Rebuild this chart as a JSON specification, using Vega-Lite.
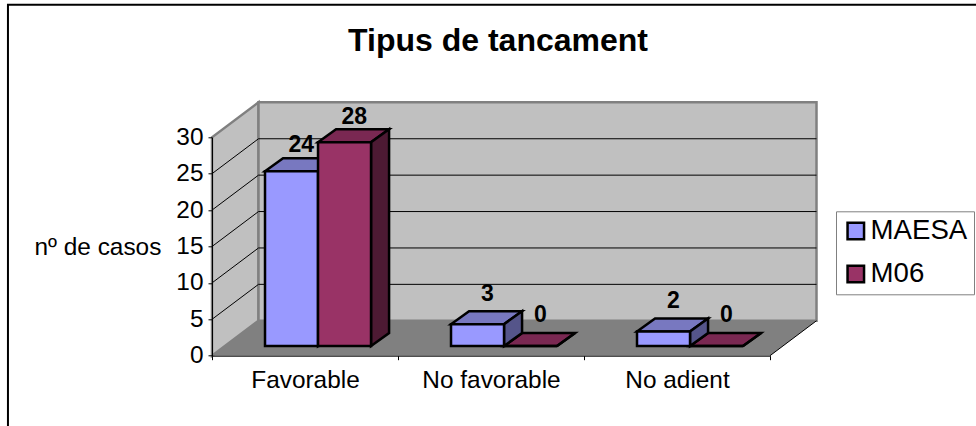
{
"$schema":"https://vega.github.io/schema/vega-lite/v6.json",
"width":558,"height":218.4,
"autosize":{"type":"none"},
"padding":{"left":212,"top":137.3,"right":206,"bottom":70.3},
"background":"white",
"title":{"text":"Tipus de tancament","font":"Liberation Sans","fontSize":32,"fontWeight":"bold","color":"black","anchor":"middle","dx":7,"offset":-54},
"config":{"view":{"stroke":null},"font":"Liberation Sans","axis":{"labelOverlap":false}},
"data":{"values":[
{"category":"Favorable","series":"MAESA","value":24},
{"category":"Favorable","series":"M06","value":28},
{"category":"No favorable","series":"MAESA","value":3},
{"category":"No favorable","series":"M06","value":0},
{"category":"No adient","series":"MAESA","value":2},
{"category":"No adient","series":"M06","value":0}
]},
"transform":[
{"calculate":"indexof(['Favorable','No favorable','No adient'],datum.category)","as":"i"},
{"calculate":"datum.series=='MAESA'?0:1","as":"s"},
{"calculate":"datum.i+0.285+datum.s*0.285","as":"x0"},
{"calculate":"datum.x0+0.285","as":"x1"},
{"calculate":"1.33","as":"y0"},
{"calculate":"1.33+datum.value","as":"y1"},
{"calculate":"datum.x0+0.195","as":"lx"},
{"calculate":"5.6+0.97*datum.value","as":"ly"}
],
"layer":[
{"data":{"values":[{"a":1}]},
 "mark":{"type":"rect","fill":null,"fillOpacity":0,"stroke":"black","strokeWidth":2,"clip":false},
 "encoding":{
  "x":{"datum":-1.097,"type":"quantitative","scale":{"domain":[0,3],"nice":false,"zero":false},
   "axis":{"title":null,"values":[0,0.5,1,1.5,2,2.5,3],"grid":false,"zindex":1,"domainColor":"black","domainWidth":1,"tickColor":"black","tickSize":4,"tickOpacity":{"condition":{"test":"datum.value%1==0","value":1},"value":0},
    "labelExpr":"datum.value==0.5?'Favorable':datum.value==1.5?'No favorable':datum.value==2.5?'No adient':''","labelFont":"Liberation Sans","labelFontSize":24.4,"labelColor":"black","labelAngle":0,"labelOverlap":false,"labelFlush":false,"labelBound":false,"labelPadding":9}},
  "x2":{"datum":4.4},
  "y":{"datum":48.2,"type":"quantitative","scale":{"domain":[0,30],"nice":false,"zero":false},
   "axis":{"title":"nº de casos","titleAngle":0,"titleAlign":"left","titleBaseline":"middle","titleX":-178,"titleY":110,"titleFont":"Liberation Sans","titleFontSize":24.4,"titleFontWeight":"normal","titleColor":"black","values":[0,5,10,15,20,25,30],"tickCount":7,"grid":false,"zindex":1,"domainColor":"black","domainWidth":1,"tickColor":"black","tickSize":4,"labelFont":"Liberation Sans","labelFontSize":24.4,"labelColor":"black","labelPadding":5,"labelFlush":false,"labelBound":false,"labelOverlap":false}},
  "y2":{"datum":-15}
 }},
{"data":{"values":[{"x":0,"low":0,"high":30},{"x":0.25,"low":4.8,"high":34.8}]},
 "mark":{"type":"area","orient":"vertical","fill":"#C0C0C0","stroke":"#808080","strokeWidth":2.5},
 "encoding":{"x":{"field":"x","type":"quantitative"},"y":{"field":"low","type":"quantitative","stack":null},"y2":{"field":"high"}}},
{"data":{"values":[{"a":1}]},
 "mark":{"type":"rect","fill":"#C0C0C0","stroke":"#808080","strokeWidth":2.5},
 "encoding":{"x":{"datum":0.25,"type":"quantitative"},"x2":{"datum":3.25},"y":{"datum":4.8,"type":"quantitative"},"y2":{"datum":34.8}}},
{"data":{"values":[{"x":0,"low":0,"high":0},{"x":0.25,"low":0,"high":4.8},{"x":3,"low":0,"high":4.8},{"x":3.25,"low":4.8,"high":4.8}]},
 "mark":{"type":"area","orient":"vertical","fill":"#808080"},
 "encoding":{"x":{"field":"x","type":"quantitative"},"y":{"field":"low","type":"quantitative","stack":null},"y2":{"field":"high"}}},
{"data":{"values":[{"v":5},{"v":10},{"v":15},{"v":20},{"v":25}]},
 "transform":[{"calculate":"datum.v+4.8","as":"b"}],
 "mark":{"type":"rule","color":"black","strokeWidth":1},
 "encoding":{"x":{"datum":0.25,"type":"quantitative"},"x2":{"datum":3.25},"y":{"field":"b","type":"quantitative"}}},
{"data":{"values":[{"v":5},{"v":10},{"v":15},{"v":20},{"v":25}]},
 "transform":[{"calculate":"datum.v+4.8","as":"b"}],
 "mark":{"type":"rule","color":"black","strokeWidth":1},
 "encoding":{"x":{"datum":0,"type":"quantitative"},"x2":{"datum":0.25},"y":{"field":"v","type":"quantitative"},"y2":{"field":"b"}}},
{"data":{"values":[{"a":1}]},
 "mark":{"type":"rule","color":"black","strokeWidth":1},
 "encoding":{"x":{"datum":3,"type":"quantitative"},"x2":{"datum":3.25},"y":{"datum":0,"type":"quantitative"},"y2":{"datum":4.8}}},
{"transform":[
 {"calculate":"datum.series+' top'","as":"face"},
 {"calculate":"[datum.x0,datum.x0+0.097,datum.x1,datum.x1+0.097]","as":"px"},
 {"calculate":"[datum.y1,datum.y1,datum.y1,datum.y1+1.79]","as":"pl"},
 {"calculate":"[datum.y1,datum.y1+1.79,datum.y1+1.79,datum.y1+1.79]","as":"ph"},
 {"flatten":["px","pl","ph"]}],
 "mark":{"type":"area","orient":"vertical","stroke":"black","strokeWidth":2.5,"strokeJoin":"miter"},
 "encoding":{"x":{"field":"px","type":"quantitative"},"y":{"field":"pl","type":"quantitative","stack":null},"y2":{"field":"ph"},"detail":{"field":"category"},
  "fill":{"field":"face","type":"nominal","scale":{"domain":["MAESA top","M06 top","MAESA side","M06 side"],"range":["#7878C0","#7A2852","#55558A","#4D1A33"]},"legend":null}}},
{"transform":[
 {"calculate":"datum.series+' side'","as":"face"},
 {"calculate":"[datum.x1,datum.x1+0.097]","as":"px"},
 {"calculate":"[datum.y0,datum.y0+1.79]","as":"pl"},
 {"calculate":"[datum.y1,datum.y1+1.79]","as":"ph"},
 {"flatten":["px","pl","ph"]}],
 "mark":{"type":"area","orient":"vertical","stroke":"black","strokeWidth":2.5,"strokeJoin":"miter"},
 "encoding":{"x":{"field":"px","type":"quantitative"},"y":{"field":"pl","type":"quantitative","stack":null},"y2":{"field":"ph"},"detail":{"field":"category"},
  "fill":{"field":"face","type":"nominal","scale":{"domain":["MAESA top","M06 top","MAESA side","M06 side"],"range":["#7878C0","#7A2852","#55558A","#4D1A33"]},"legend":null}}},
{"mark":{"type":"rect","stroke":"black","strokeWidth":2.5,"fillOpacity":1},
 "encoding":{"x":{"field":"x0","type":"quantitative"},"x2":{"field":"x1"},"y":{"field":"y0","type":"quantitative"},"y2":{"field":"y1"},
  "order":{"field":"s"},
  "color":{"field":"series","type":"nominal","scale":{"domain":["MAESA","M06"],"range":["#9999FF","#993366"]},
   "legend":{"title":null,"orient":"none","legendX":624,"legendY":74,"fillColor":"white","strokeColor":"#808080","padding":6,"symbolType":"square","symbolSize":272,"symbolStrokeColor":"black","symbolStrokeWidth":2.5,"labelFont":"Liberation Sans","labelFontSize":27.6,"labelColor":"black","rowPadding":14,"labelOffset":1,"labelExpr":"datum.label+' '"}}}},
{"mark":{"type":"text","font":"Liberation Sans","fontWeight":"bold","fontSize":23,"color":"black","baseline":"middle","align":"center"},
 "encoding":{"x":{"field":"lx","type":"quantitative"},"y":{"field":"ly","type":"quantitative"},"text":{"field":"value","type":"quantitative"}}}
]
}
